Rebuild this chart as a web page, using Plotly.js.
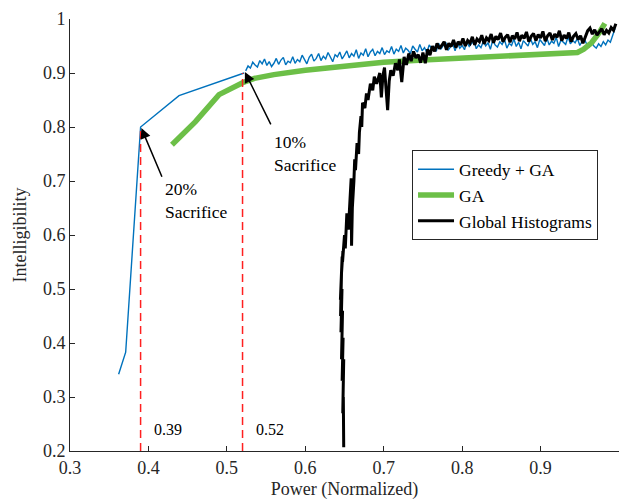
<!DOCTYPE html>
<html>
<head>
<meta charset="utf-8">
<script src="https://cdn.plot.ly/plotly-3.0.1.min.js"></script>
</head>
<body style="margin:0;padding:0;background:#fff">
<div id="chart" style="width:620px;height:501px"></div>
<script>
// ---- Greedy + GA ----
const greedyHeadX = [0.362, 0.371, 0.390, 0.439, 0.522];
const greedyHeadY = [0.342, 0.383, 0.800, 0.858, 0.900];
const greedyTailX0 = 0.524, greedyTailDx = 0.003;
const greedyTailY = [
  0.904, 0.913, 0.909, 0.920, 0.915, 0.911, 0.923, 0.917, 0.926, 0.914,
  0.921, 0.912, 0.918, 0.927, 0.916, 0.924, 0.929, 0.915, 0.922, 0.919,
  0.930, 0.918, 0.925, 0.921, 0.933, 0.924, 0.917, 0.929, 0.935, 0.922,
  0.927, 0.936, 0.923, 0.931, 0.926, 0.938, 0.929, 0.921, 0.934, 0.930,
  0.939, 0.926, 0.933, 0.941, 0.928, 0.936, 0.931, 0.943, 0.927, 0.937,
  0.933, 0.945, 0.930, 0.939, 0.944, 0.932, 0.940, 0.936, 0.947, 0.934,
  0.941, 0.938, 0.949, 0.935, 0.944, 0.940, 0.951, 0.937, 0.946, 0.942,
  0.936, 0.950, 0.944, 0.939, 0.953, 0.941, 0.947, 0.938, 0.952, 0.945,
  0.949, 0.940, 0.955, 0.944, 0.951, 0.957, 0.942, 0.948, 0.954, 0.941,
  0.956, 0.946, 0.951, 0.943, 0.958, 0.949, 0.954, 0.960, 0.945, 0.952,
  0.947, 0.959, 0.950, 0.956, 0.944, 0.961, 0.952, 0.948, 0.958, 0.953,
  0.962, 0.946, 0.955, 0.951, 0.963, 0.949, 0.957, 0.945, 0.960, 0.954,
  0.950, 0.964, 0.953, 0.958, 0.947, 0.962, 0.956, 0.951, 0.965, 0.952,
  0.959, 0.955, 0.966, 0.949, 0.961, 0.957, 0.953, 0.967, 0.954, 0.960,
  0.956, 0.964, 0.951, 0.959, 0.962, 0.953, 0.948, 0.957, 0.950, 0.946,
  0.954, 0.949, 0.958, 0.952, 0.961, 0.957, 0.970, 0.983
];

// ---- GA ----
const gaX = [0.43, 0.46, 0.49, 0.52, 0.535, 0.56, 0.60, 0.65, 0.70, 0.75, 0.80, 0.85, 0.90, 0.947, 0.955, 0.965, 0.975, 0.982];
const gaY = [0.767, 0.810, 0.860, 0.882, 0.890, 0.897, 0.905, 0.913, 0.920, 0.924, 0.928, 0.931, 0.934, 0.938, 0.944, 0.956, 0.975, 0.992];

// ---- Global Histograms ----
const ghClimbX = [0.6490, 0.6485, 0.6478, 0.6490, 0.6470, 0.6482, 0.6462, 0.6475, 0.6455, 0.6468, 0.6450, 0.6462,
  0.6448, 0.6460, 0.6452, 0.6470, 0.6462, 0.6480, 0.6475,
  0.6500, 0.6510, 0.6530, 0.6550, 0.6570, 0.6585, 0.6590, 0.6600, 0.6620, 0.6630, 0.6640, 0.6660, 0.6680,
  0.6690, 0.6710, 0.6720, 0.6730, 0.6760, 0.6780, 0.6800, 0.6830, 0.6860, 0.6880, 0.6910, 0.6950, 0.6970, 0.6990,
  0.7010, 0.7030, 0.7050, 0.7070, 0.7090, 0.7120, 0.7150, 0.7180, 0.7200];
const ghClimbY = [0.207, 0.300, 0.270, 0.370, 0.330, 0.410, 0.370, 0.460, 0.420, 0.500, 0.450, 0.530,
  0.480, 0.545, 0.510, 0.560, 0.530, 0.570, 0.550,
  0.600, 0.575, 0.640, 0.610, 0.665, 0.705, 0.580, 0.650, 0.700, 0.740, 0.720, 0.770, 0.750,
  0.790, 0.820, 0.800, 0.845, 0.835, 0.862, 0.850, 0.880, 0.868, 0.893, 0.880, 0.900, 0.855, 0.895,
  0.910, 0.870, 0.831, 0.885, 0.905, 0.895, 0.918, 0.905, 0.925];
const ghTailX0 = 0.720, ghTailDx = 0.003;
const ghTailY = [
  0.925, 0.883, 0.930, 0.915, 0.936, 0.922, 0.940, 0.928, 0.934, 0.919,
  0.938, 0.918, 0.944, 0.933, 0.950, 0.940, 0.955, 0.945, 0.951, 0.958,
  0.943, 0.955, 0.949, 0.961, 0.947, 0.958, 0.952, 0.964, 0.950, 0.960,
  0.955, 0.967, 0.952, 0.963, 0.958, 0.970, 0.954, 0.965, 0.960, 0.972,
  0.956, 0.968, 0.962, 0.974, 0.958, 0.966, 0.971, 0.957, 0.969, 0.963,
  0.975, 0.959, 0.970, 0.964, 0.976, 0.958, 0.968, 0.973, 0.960, 0.971,
  0.965, 0.977, 0.959, 0.969, 0.974, 0.961, 0.972, 0.966, 0.978, 0.960,
  0.970, 0.964, 0.975, 0.958, 0.968, 0.973, 0.962, 0.969, 0.955, 0.966,
  0.978, 0.983, 0.972, 0.980, 0.970, 0.976, 0.982, 0.971, 0.979, 0.974,
  0.984, 0.979, 0.991
];

// ---- reference lines & labels ----
const cutX = [0.39, 0.52];
const cutTopY = [0.80, 0.90];
const cutLabels = ['0.39', '0.52'];
const yBottom = 0.2;

const blue = '#0072BD', green = '#6cbf47', red = '#ff2020';
const FONT = 'Liberation Serif';

const traces = [
  {x: greedyHeadX, y: greedyHeadY, mode: 'lines', name: 'Greedy + GA', legendgroup: 'g',
   line: {color: blue, width: 1.4}},
  {x0: greedyTailX0, dx: greedyTailDx, y: greedyTailY, mode: 'lines', name: 'Greedy + GA', legendgroup: 'g',
   showlegend: false, line: {color: blue, width: 1.4}},
  {x: gaX, y: gaY, mode: 'lines', name: 'GA', line: {color: green, width: 5.5}},
  {x: ghClimbX, y: ghClimbY, mode: 'lines', name: 'Global Histograms', legendgroup: 'h',
   line: {color: '#000', width: 3}},
  {x0: ghTailX0, dx: ghTailDx, y: ghTailY, mode: 'lines', name: 'Global Histograms', legendgroup: 'h',
   showlegend: false, line: {color: '#000', width: 3}}
];
cutX.forEach((cx, i) => {
  traces.push({x: [cx, cx], y: [yBottom, cutTopY[i]], mode: 'lines', showlegend: false, hoverinfo: 'skip',
    line: {color: red, width: 1.5, dash: '8px,5px'}});
});

const annotations = [
  {x: 0.391, y: 0.798, ax: 0.418, ay: 0.705, xref: 'x', yref: 'y', axref: 'x', ayref: 'y',
   text: '', showarrow: true, arrowhead: 2, arrowsize: 1.4, arrowwidth: 1.5, arrowcolor: '#000'},
  {x: 0.523, y: 0.902, ax: 0.557, ay: 0.802, xref: 'x', yref: 'y', axref: 'x', ayref: 'y',
   text: '', showarrow: true, arrowhead: 2, arrowsize: 1.4, arrowwidth: 1.5, arrowcolor: '#000'},
  {x: 0.4185, y: 0.707, xref: 'x', yref: 'y', xanchor: 'left', yanchor: 'top', align: 'left',
   text: '20%<br>Sacrifice', showarrow: false, font: {family: FONT, size: 17.5, color: '#000'}},
  {x: 0.557, y: 0.795, xref: 'x', yref: 'y', xanchor: 'left', yanchor: 'top', align: 'left',
   text: '10%<br>Sacrifice', showarrow: false, font: {family: FONT, size: 17.5, color: '#000'}}
];
cutX.forEach((cx, i) => {
  annotations.push({x: cx + 0.0145, y: 0.239, xref: 'x', yref: 'y', xanchor: 'left', yanchor: 'middle',
    text: cutLabels[i], showarrow: false, font: {family: FONT, size: 16, color: '#000'}});
});

const layout = {
  width: 620, height: 501,
  margin: {l: 70, r: 1, t: 19, b: 50},
  paper_bgcolor: '#fff', plot_bgcolor: '#fff',
  font: {family: FONT, size: 18, color: '#262626'},
  showlegend: true,
  legend: {x: 0.623, y: 0.696, xanchor: 'left', yanchor: 'top', bgcolor: '#fff',
    bordercolor: '#262626', borderwidth: 1, font: {family: FONT, size: 17.5, color: '#000'},
    tracegroupgap: 0, itemwidth: 36},
  xaxis: {range: [0.3, 1], dtick: 0.1, tick0: 0.3, showgrid: false, zeroline: false,
    showline: true, linecolor: '#262626', linewidth: 1, ticks: 'inside', ticklen: 5, tickcolor: '#262626',
    tickfont: {family: FONT, size: 18, color: '#262626'},
    title: {text: 'Power (Normalized)', font: {family: FONT, size: 18, color: '#262626'}, standoff: 5}},
  yaxis: {range: [0.2, 1], dtick: 0.1, tick0: 0.2, showgrid: false, zeroline: false,
    showline: true, linecolor: '#262626', linewidth: 1, ticks: 'inside', ticklen: 5, tickcolor: '#262626',
    tickfont: {family: FONT, size: 18, color: '#262626'},
    title: {text: 'Intelligibility', font: {family: FONT, size: 18, color: '#262626'}, standoff: 11}},
  annotations: annotations
};

Plotly.newPlot('chart', traces, layout, {displayModeBar: false});
</script>
</body>
</html>
